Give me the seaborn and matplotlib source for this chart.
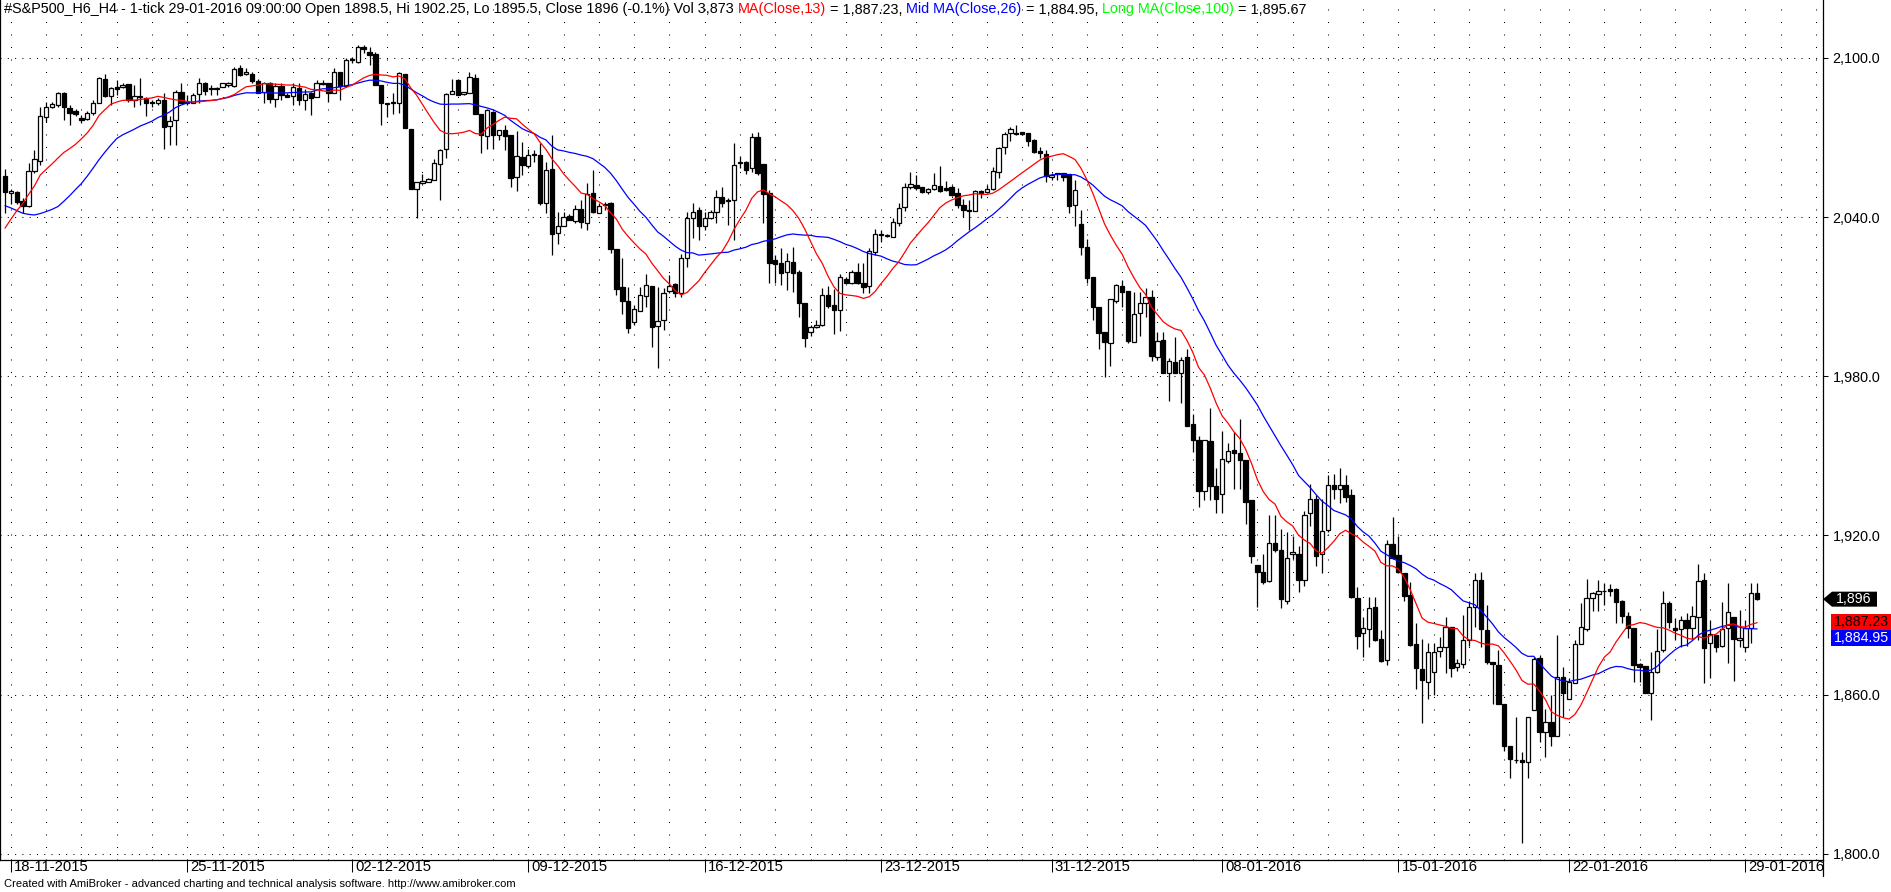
import numpy as np
import pandas as pd
import matplotlib
matplotlib.use("Agg")
import matplotlib.pyplot as plt
import seaborn as sns
from matplotlib import font_manager
from matplotlib.patches import Polygon, Rectangle
from matplotlib.lines import Line2D

# ---- data (4-hour bars, 17-11-2015 .. 29-01-2016) ----
opens = [
    2055.5, 2049.2, 2049.4, 2046.0, 2044.1, 2057.3, 2061.0, 2077.6, 2081.6, 2082.2,
    2086.6, 2081.0, 2079.8, 2077.4, 2076.9, 2079.1, 2083.1, 2091.9, 2085.6, 2089.0,
    2088.9, 2090.0, 2084.2, 2085.6, 2084.8, 2083.0, 2082.9, 2084.2, 2074.2, 2076.4,
    2087.0, 2083.5, 2083.1, 2086.3, 2090.6, 2088.5, 2088.3, 2088.9, 2089.8, 2089.3,
    2096.0, 2093.9, 2094.1, 2091.2, 2087.3, 2090.4, 2084.4, 2089.4, 2086.0, 2085.6,
    2088.8, 2084.2, 2086.8, 2085.3, 2090.3, 2090.4, 2086.8, 2094.5, 2089.3, 2099.0,
    2098.5, 2104.0, 2102.3, 2101.6, 2089.7, 2083.1, 2083.0, 2083.1, 2094.1, 2073.0,
    2050.4, 2052.9, 2053.3, 2053.9, 2060.0, 2065.6, 2086.2, 2091.6, 2086.2, 2086.6,
    2092.3, 2078.8, 2070.5, 2079.7, 2071.0, 2072.8, 2070.9, 2055.0, 2062.5, 2059.3,
    2063.5, 2063.4, 2045.4, 2058.0, 2034.1, 2036.6, 2040.4, 2038.5, 2043.2, 2037.9,
    2048.9, 2041.6, 2044.6, 2045.2, 2027.9, 2013.5, 2008.4, 2000.6, 2004.7, 2010.4,
    2014.0, 1999.1, 2001.2, 2012.3, 2014.8, 2011.3, 2024.5, 2039.5, 2042.7, 2036.6,
    2039.5, 2041.8, 2047.4, 2046.5, 2046.4, 2060.4, 2060.8, 2058.3, 2070.1, 2060.0,
    2049.2, 2023.8, 2022.8, 2019.4, 2023.2, 2019.4, 2007.5, 1996.8, 1998.5, 1999.3,
    2010.6, 2006.9, 2005.0, 2016.5, 2015.0, 2019.4, 2015.0, 2014.0, 2027.0, 2033.2,
    2032.9, 2032.6, 2037.6, 2043.9, 2051.2, 2051.9, 2051.2, 2049.6, 2050.4, 2051.7,
    2050.9, 2051.2, 2048.9, 2044.5, 2042.6, 2042.4, 2049.8, 2049.6, 2050.6, 2057.1,
    2066.3, 2071.5, 2071.5, 2072.0, 2071.5, 2069.0, 2064.9, 2063.7, 2055.0, 2056.5,
    2056.5, 2056.1, 2044.5, 2037.4, 2028.8, 2017.5, 2006.2, 1996.8, 1992.7, 2008.5,
    2014.0, 2012.1, 1993.0, 2003.7, 2007.5, 2010.0, 1987.4, 1993.6, 1981.1, 1985.2,
    1981.3, 1987.1, 1962.0, 1955.9, 1936.8, 1955.6, 1938.6, 1935.8, 1948.2, 1952.2,
    1950.9, 1948.4, 1933.3, 1908.8, 1906.1, 1902.9, 1917.0, 1914.7, 1895.4, 1913.0,
    1913.2, 1903.4, 1928.3, 1933.6, 1913.0, 1922.0, 1939.2, 1937.7, 1939.0, 1935.2,
    1896.6, 1883.1, 1884.6, 1892.9, 1880.8, 1873.0, 1916.7, 1912.8, 1905.9, 1897.5,
    1879.0, 1869.7, 1864.9, 1868.7, 1876.5, 1878.1, 1885.4, 1870.3, 1871.4, 1880.6,
    1892.9, 1903.2, 1884.4, 1872.3, 1871.2, 1856.5, 1840.8, 1835.4, 1835.4, 1834.5,
    1854.2, 1873.7, 1846.1, 1849.8, 1844.6, 1866.8, 1858.2, 1864.3, 1879.0, 1884.6,
    1896.3, 1898.0, 1899.1, 1899.8, 1899.8, 1895.4, 1889.7, 1885.0, 1871.4, 1870.8,
    1860.5, 1868.4, 1876.8, 1894.7, 1885.0, 1884.6, 1888.1, 1885.0, 1889.4, 1903.2,
    1879.4, 1882.5, 1878.3, 1885.0, 1889.4, 1880.6, 1878.1, 1885.0, 1898.5,
]
highs = [
    2058.0, 2050.4, 2049.8, 2047.3, 2060.4, 2065.4, 2081.6, 2083.5, 2083.5, 2087.3,
    2087.3, 2082.3, 2080.6, 2078.5, 2079.8, 2084.2, 2092.9, 2093.9, 2089.1, 2091.6,
    2090.4, 2090.0, 2089.8, 2092.3, 2085.4, 2084.2, 2084.8, 2086.6, 2077.9, 2087.9,
    2090.6, 2086.0, 2086.6, 2092.3, 2091.0, 2089.8, 2089.1, 2090.4, 2091.0, 2096.6,
    2097.2, 2096.0, 2094.7, 2091.9, 2091.0, 2091.0, 2090.4, 2090.4, 2086.6, 2090.4,
    2090.4, 2088.1, 2087.2, 2091.6, 2091.6, 2090.7, 2096.0, 2094.7, 2099.8, 2100.4,
    2105.0, 2105.0, 2104.0, 2102.3, 2089.7, 2083.1, 2086.6, 2094.7, 2094.1, 2073.0,
    2053.3, 2056.4, 2054.6, 2061.9, 2065.6, 2086.6, 2092.0, 2091.9, 2087.2, 2094.5,
    2093.9, 2078.8, 2080.9, 2079.9, 2072.8, 2074.7, 2070.9, 2072.6, 2068.4, 2065.5,
    2065.3, 2067.8, 2060.9, 2070.9, 2042.0, 2042.0, 2041.2, 2044.6, 2046.4, 2053.0,
    2057.7, 2045.2, 2045.8, 2045.8, 2027.9, 2024.5, 2013.8, 2006.9, 2013.8, 2018.6,
    2014.0, 2013.8, 2013.2, 2018.2, 2015.0, 2026.1, 2042.0, 2045.2, 2043.9, 2042.0,
    2042.7, 2050.2, 2051.2, 2047.1, 2067.8, 2063.0, 2061.3, 2071.6, 2072.2, 2060.0,
    2050.2, 2025.7, 2028.2, 2026.3, 2028.9, 2020.0, 2007.5, 1999.3, 2001.2, 2013.2,
    2014.0, 2012.8, 2018.6, 2017.3, 2020.0, 2022.6, 2022.8, 2028.2, 2035.4, 2035.1,
    2033.5, 2039.5, 2045.2, 2052.7, 2057.1, 2055.8, 2051.4, 2050.8, 2056.7, 2059.2,
    2053.6, 2052.1, 2050.8, 2046.7, 2046.4, 2050.2, 2050.2, 2052.1, 2058.7, 2066.5,
    2072.2, 2073.8, 2074.7, 2072.2, 2071.8, 2069.6, 2066.5, 2065.3, 2056.5, 2056.7,
    2056.7, 2056.2, 2053.9, 2042.6, 2031.6, 2017.5, 2006.2, 1996.8, 2009.0, 2014.8,
    2016.3, 2012.1, 2011.9, 2011.9, 2013.1, 2012.5, 1996.5, 1996.8, 1986.7, 1994.9,
    1987.3, 1990.1, 1965.7, 1957.4, 1955.9, 1968.1, 1945.3, 1959.5, 1954.9, 1959.1,
    1963.9, 1948.4, 1933.3, 1908.8, 1913.0, 1927.9, 1927.9, 1922.3, 1921.4, 1919.7,
    1916.0, 1929.2, 1939.3, 1935.4, 1933.6, 1942.7, 1943.1, 1945.5, 1942.7, 1937.7,
    1900.4, 1889.3, 1896.9, 1896.9, 1884.3, 1918.2, 1926.8, 1919.7, 1905.9, 1902.5,
    1887.1, 1880.9, 1879.4, 1879.4, 1881.6, 1889.2, 1885.4, 1873.5, 1890.0, 1895.4,
    1906.0, 1906.4, 1893.8, 1872.4, 1876.8, 1856.5, 1840.8, 1851.5, 1838.5, 1851.7,
    1874.1, 1875.0, 1854.5, 1859.9, 1882.5, 1870.6, 1866.2, 1880.6, 1894.4, 1903.5,
    1898.8, 1903.2, 1902.2, 1901.7, 1900.3, 1895.7, 1891.3, 1885.0, 1872.1, 1870.8,
    1876.2, 1884.6, 1899.2, 1895.4, 1888.8, 1889.7, 1890.7, 1893.4, 1909.3, 1906.0,
    1888.1, 1882.5, 1895.1, 1902.0, 1889.4, 1891.9, 1888.1, 1902.0, 1902.25,
]
lows = [
    2041.5, 2045.1, 2045.1, 2041.6, 2043.9, 2056.6, 2059.8, 2076.0, 2081.0, 2081.6,
    2076.6, 2074.6, 2077.9, 2075.6, 2076.6, 2078.5, 2082.9, 2085.4, 2082.3, 2086.0,
    2088.5, 2083.5, 2081.6, 2082.2, 2077.9, 2081.6, 2082.3, 2065.6, 2067.3, 2067.3,
    2082.9, 2082.3, 2082.9, 2082.9, 2086.0, 2086.0, 2086.0, 2088.9, 2089.1, 2089.1,
    2093.1, 2093.5, 2090.4, 2086.6, 2083.1, 2083.1, 2081.3, 2084.2, 2085.4, 2082.2,
    2082.2, 2080.3, 2078.4, 2085.3, 2089.7, 2083.4, 2086.6, 2084.1, 2089.1, 2097.9,
    2098.0, 2102.0, 2097.3, 2089.7, 2074.6, 2077.8, 2079.0, 2079.3, 2073.4, 2050.4,
    2039.8, 2052.6, 2053.3, 2053.9, 2046.6, 2062.4, 2086.2, 2085.9, 2086.0, 2086.6,
    2078.8, 2064.3, 2065.8, 2065.5, 2069.1, 2065.3, 2051.5, 2050.0, 2055.9, 2058.4,
    2060.9, 2044.6, 2041.4, 2025.7, 2029.9, 2036.6, 2038.9, 2037.9, 2035.8, 2035.1,
    2041.4, 2041.4, 2042.7, 2026.3, 2010.6, 2003.5, 1996.2, 1999.3, 2004.7, 2006.2,
    1991.2, 1983.2, 1997.4, 2011.3, 2010.0, 2010.0, 2021.3, 2032.0, 2031.4, 2035.1,
    2039.1, 2037.9, 2043.7, 2037.0, 2031.4, 2058.4, 2056.2, 2057.1, 2055.9, 2037.7,
    2015.3, 2015.3, 2014.4, 2012.5, 2011.9, 2002.5, 1990.9, 1995.2, 1998.1, 1998.9,
    2005.6, 1995.8, 1997.2, 2015.0, 2014.8, 2014.8, 2011.3, 2011.3, 2025.7, 2030.7,
    2032.6, 2032.3, 2036.6, 2042.4, 2050.4, 2050.2, 2049.2, 2048.7, 2050.2, 2049.6,
    2049.8, 2047.9, 2043.6, 2040.1, 2035.1, 2042.3, 2047.0, 2049.2, 2050.2, 2054.6,
    2063.7, 2068.8, 2070.9, 2070.9, 2066.8, 2064.0, 2062.1, 2053.3, 2054.0, 2054.0,
    2053.7, 2041.4, 2036.6, 2025.7, 2015.0, 2001.2, 1990.1, 1979.8, 1983.9, 2007.5,
    2006.2, 1992.4, 1993.0, 1995.2, 2002.4, 1985.9, 1986.3, 1981.3, 1970.8, 1981.3,
    1970.0, 1961.3, 1951.5, 1930.8, 1933.3, 1933.3, 1928.3, 1928.3, 1947.4, 1937.7,
    1937.7, 1924.5, 1909.7, 1893.1, 1901.9, 1902.5, 1913.8, 1892.5, 1894.1, 1911.3,
    1898.8, 1900.9, 1923.5, 1908.6, 1905.7, 1921.4, 1933.6, 1932.3, 1932.7, 1896.3,
    1877.4, 1874.3, 1877.8, 1880.3, 1872.4, 1871.1, 1911.3, 1905.9, 1895.4, 1878.3,
    1862.0, 1849.2, 1858.3, 1859.9, 1874.1, 1868.3, 1866.5, 1869.1, 1869.9, 1878.4,
    1885.6, 1877.9, 1871.6, 1856.4, 1856.4, 1838.9, 1828.7, 1834.1, 1804.0, 1828.5,
    1854.2, 1842.3, 1836.4, 1840.7, 1844.6, 1851.5, 1858.2, 1864.3, 1879.0, 1884.1,
    1891.7, 1891.7, 1893.8, 1897.2, 1887.1, 1887.1, 1881.2, 1864.9, 1864.9, 1860.5,
    1850.5, 1868.0, 1876.2, 1885.0, 1880.6, 1878.1, 1878.4, 1880.9, 1880.6, 1864.5,
    1866.2, 1876.2, 1878.1, 1871.8, 1865.3, 1877.9, 1876.2, 1879.6, 1895.5,
]
closes = [
    2049.5, 2049.8, 2045.6, 2044.1, 2057.3, 2061.9, 2077.9, 2081.6, 2082.6, 2086.6,
    2081.4, 2079.3, 2078.8, 2076.4, 2079.1, 2082.9, 2092.3, 2085.6, 2088.5, 2088.3,
    2089.8, 2084.2, 2085.6, 2085.1, 2082.9, 2082.9, 2084.2, 2073.8, 2076.3, 2087.0,
    2083.1, 2082.9, 2086.0, 2090.6, 2087.6, 2088.2, 2088.2, 2090.4, 2090.4, 2095.7,
    2093.5, 2094.5, 2091.3, 2086.9, 2090.4, 2084.4, 2089.4, 2086.0, 2085.4, 2088.9,
    2084.2, 2086.3, 2084.7, 2090.7, 2090.2, 2086.8, 2094.7, 2089.3, 2099.1, 2099.4,
    2104.0, 2103.5, 2101.0, 2089.7, 2083.0, 2082.6, 2083.4, 2094.4, 2073.4, 2050.4,
    2053.3, 2053.6, 2054.2, 2060.4, 2065.4, 2086.3, 2087.6, 2085.9, 2087.0, 2092.6,
    2078.8, 2070.8, 2080.3, 2071.1, 2072.8, 2070.6, 2054.6, 2063.0, 2059.5, 2063.4,
    2063.3, 2045.4, 2057.7, 2033.6, 2036.6, 2040.2, 2038.9, 2042.9, 2038.3, 2048.7,
    2042.0, 2044.2, 2044.8, 2028.1, 2013.0, 2008.5, 1998.3, 2005.2, 2010.6, 2014.3,
    1998.7, 2000.8, 2011.3, 2014.2, 2011.3, 2024.5, 2039.5, 2042.0, 2036.6, 2039.5,
    2042.0, 2047.7, 2045.4, 2046.1, 2059.5, 2060.7, 2057.7, 2070.3, 2056.7, 2048.7,
    2022.6, 2022.3, 2019.1, 2023.5, 2019.1, 2007.5, 1994.6, 1998.7, 1999.3, 2010.6,
    2006.5, 2005.0, 2017.3, 2015.3, 2019.2, 2015.0, 2013.5, 2027.3, 2033.5, 2033.4,
    2033.2, 2038.3, 2043.6, 2051.2, 2052.4, 2050.9, 2049.6, 2050.6, 2052.1, 2049.9,
    2050.2, 2048.3, 2044.5, 2042.6, 2042.4, 2049.8, 2048.9, 2050.7, 2057.3, 2065.9,
    2071.2, 2073.0, 2071.2, 2071.3, 2068.8, 2064.6, 2064.0, 2055.5, 2055.8, 2056.4,
    2055.2, 2044.2, 2050.2, 2028.8, 2016.9, 2006.2, 1996.2, 1993.0, 2009.0, 2014.4,
    2011.9, 1993.4, 2003.3, 2007.5, 2009.7, 1987.6, 1993.4, 1981.3, 1985.7, 1981.3,
    1986.1, 1961.3, 1955.9, 1936.8, 1955.9, 1938.7, 1933.8, 1948.7, 1951.9, 1950.9,
    1948.6, 1932.7, 1912.2, 1906.3, 1902.5, 1917.0, 1914.7, 1895.9, 1911.7, 1913.7,
    1903.4, 1927.9, 1933.6, 1912.3, 1921.8, 1939.2, 1937.7, 1939.2, 1934.6, 1896.9,
    1882.2, 1885.0, 1892.5, 1880.5, 1872.8, 1916.7, 1911.7, 1906.3, 1897.3, 1878.7,
    1869.9, 1865.5, 1876.0, 1876.0, 1878.1, 1885.4, 1869.9, 1872.1, 1880.6, 1892.9,
    1903.2, 1884.6, 1872.4, 1871.4, 1856.4, 1840.8, 1835.6, 1835.2, 1834.8, 1851.5,
    1873.3, 1846.1, 1849.8, 1844.6, 1866.8, 1860.8, 1864.9, 1879.1, 1885.4, 1896.3,
    1898.5, 1899.1, 1898.9, 1899.2, 1895.1, 1889.7, 1885.0, 1871.2, 1870.6, 1860.8,
    1868.7, 1876.5, 1894.4, 1887.5, 1884.4, 1888.1, 1885.0, 1889.7, 1902.8, 1877.5,
    1882.7, 1878.1, 1884.6, 1891.0, 1880.9, 1881.2, 1885.0, 1898.2, 1896.0,
]
# closes before the first visible bar, estimated so the averages start where the chart shows them
warmup_close = [2072, 2071, 2070, 2069, 2068, 2064, 2062, 2061, 2059, 2030, 2024, 2018, 2018,
                 2006, 2004, 2010, 2012, 2020, 2024, 2054, 2056, 2058, 2054, 2060, 2058]

week_start = [1, 31, 59, 89, 119, 149, 178, 207, 237, 266, 296]
week_label = ["18-11-2015", "25-11-2015", "02-12-2015", "09-12-2015", "16-12-2015",
              "23-12-2015", "31-12-2015", "08-01-2016", "15-01-2016", "22-01-2016",
              "29-01-2016"]
price_ticks = [1800, 1860, 1920, 1980, 2040, 2100]
ma_fast_last, ma_mid_last, ma_long_last = 1887.23, 1884.95, 1895.67

header_parts = [
    ("#S&P500_H6_H4 - 1-tick 29-01-2016 09:00:00 Open 1898.5, Hi 1902.25, Lo 1895.5, "
     "Close 1896 (-0.1%) Vol 3,873 ", "black"),
    ("MA(Close,13)", "#FF0000"),
    (f" = {ma_fast_last:,.2f}, ", "black"),
    ("Mid MA(Close,26)", "#0000FF"),
    (f" = {ma_mid_last:,.2f}, ", "black"),
    ("Long MA(Close,100)", "#00FF00"),
    (f" = {ma_long_last:,.2f}", "black"),
]
footer = ("Created with AmiBroker - advanced charting and technical analysis software. "
          "http://www.amibroker.com")

# ---- layout (pixels) ----
W, H = 1891, 892
PLOT_R, PLOT_B = 1823, 860
Y_TOP, Y_BOT = 2121.8, 1797.7
X_LEFT, X_RIGHT = -0.85, 309.2

sns.set_style("white")
installed = {f.name for f in font_manager.fontManager.ttflist}
narrow = "Liberation Sans Narrow" if "Liberation Sans Narrow" in installed else "Liberation Sans"
plt.rcParams["font.family"] = [narrow, "Liberation Sans", "DejaVu Sans"]

fig = plt.figure(figsize=(W / 100, H / 100), dpi=100)
ax = fig.add_axes([0, 1 - PLOT_B / H, PLOT_R / W, PLOT_B / H])
renderer = fig.canvas.get_renderer()


def fx(x):
    return x / W


def fy(y):
    return 1 - y / H


def price_px(p):
    return PLOT_B * (Y_TOP - p) / (Y_TOP - Y_BOT)


def text_width(s, size):
    t = fig.text(0, 0, s + "|", fontsize=size)
    b = fig.text(0, 0, "|", fontsize=size)
    w = t.get_window_extent(renderer).width - b.get_window_extent(renderer).width
    t.remove()
    b.remove()
    return w


def fit_size(s, target):
    return 10.0 * target / text_width(s, 10.0)


tick_size = fit_size("18-11-2015", 75)

# grid
n = len(closes)
day_lines = []
bounds = week_start + [int(X_RIGHT) + 1]
for w, nxt in zip(bounds[:-1], bounds[1:]):
    day_lines += list(range(w, nxt, 6))
for d in day_lines:
    ax.axvline(d, color="black", lw=0.75, ls=(0, (1, 11)), zorder=1)
for p in price_ticks:
    ax.axhline(p, color="black", lw=0.75, ls=(0, (1, 6)), zorder=1)

# candles
idx = np.arange(n)
o, h, l, c = (np.asarray(a, dtype=float) for a in (opens, highs, lows, closes))
up = c >= o
ax.vlines(idx, l, h, color="black", lw=0.9, zorder=3)
ax.bar(idx, np.maximum(np.abs(c - o), 0.35), bottom=np.minimum(o, c), width=0.74,
       color=np.where(up, "white", "black"), edgecolor="black", linewidth=0.9, zorder=4)

# moving averages
all_close = pd.Series(warmup_close + closes, dtype=float)
ma13 = all_close.rolling(13).mean().iloc[len(warmup_close):].to_numpy()
ma26 = all_close.rolling(26).mean().iloc[len(warmup_close):].to_numpy()
sns.lineplot(x=idx, y=ma26, ax=ax, color="#0000FF", linewidth=0.9, zorder=5)
sns.lineplot(x=idx, y=ma13, ax=ax, color="#FF0000", linewidth=0.9, zorder=6)

ax.set_xlim(X_LEFT, X_RIGHT)
ax.set_ylim(Y_BOT, Y_TOP)
for side in ("left", "bottom", "right"):
    ax.spines[side].set_visible(True)
    ax.spines[side].set_color("black")
    ax.spines[side].set_linewidth(0.9)
ax.spines["top"].set_visible(False)

ax.yaxis.tick_right()
ax.set_yticks(price_ticks)
ax.set_yticklabels([f"{v:,.1f}" for v in price_ticks])
ax.tick_params(axis="y", right=True, left=False, length=3.6, width=0.75, pad=3.4,
               labelsize=fit_size("2,100.0", 48), colors="black", direction="out")
ax.set_xticks(week_start)
ax.set_xticklabels([])
ax.tick_params(axis="x", bottom=True, length=8.6, width=0.75, direction="out", colors="black")
ax.set_xlabel("")
ax.set_ylabel("")
for w, lab in zip(week_start, week_label):
    ax.annotate(lab, xy=(w, 0), xycoords=("data", "axes fraction"), xytext=(2.2, -5.0),
                textcoords="offset points", ha="left", va="center", fontsize=tick_size,
                color="black", annotation_clip=False)

# right border continues past the date row
fig.add_artist(Line2D([fx(PLOT_R), fx(PLOT_R)], [fy(PLOT_B), fy(876)], color="black", lw=0.9,
                      transform=fig.transFigure))

# last-value tags on the price axis
box_h = 16
tag_size = fit_size("1,896", 35)
yc = price_px(closes[-1])
tag = [(PLOT_R, yc), (PLOT_R + 9, yc - 7.5), (1877, yc - 7.5), (1877, yc + 7.5), (PLOT_R + 9, yc + 7.5)]
fig.add_artist(Polygon([(fx(x), fy(y)) for x, y in tag], closed=True, transform=fig.transFigure,
                       facecolor="black", edgecolor="none"))
fig.text(fx(1836), fy(yc), f"{closes[-1]:,.0f}", color="white", fontsize=tag_size, va="center")

red_c = price_px(ma_fast_last)
blue_c = max(price_px(ma_mid_last), red_c + box_h)
for cen, face, txt_col, val in ((red_c, "#FF0000", "black", ma_fast_last),
                                (blue_c, "#0000FF", "white", ma_mid_last)):
    fig.add_artist(Rectangle((fx(1831), fy(cen + box_h / 2)), fx(W - 1831), box_h / H,
                             transform=fig.transFigure, facecolor=face, edgecolor="none"))
    fig.text(fx(1834), fy(cen), f"{val:,.2f}", color=txt_col, fontsize=tag_size, va="center")

# header line with coloured pieces
full_header = "".join(p for p, _ in header_parts)
head_size = fit_size(full_header, 1307)
x = 4.0
for part, col in header_parts:
    fig.text(fx(x), fy(9.5), part, color=col, fontsize=head_size, va="center", ha="left")
    x += text_width(part, head_size)

fig.text(fx(4), fy(884), footer, color="black", fontsize=fit_size(footer, 511),
         va="center", ha="left")

fig.savefig("out.png", dpi=100)
plt.close(fig)
